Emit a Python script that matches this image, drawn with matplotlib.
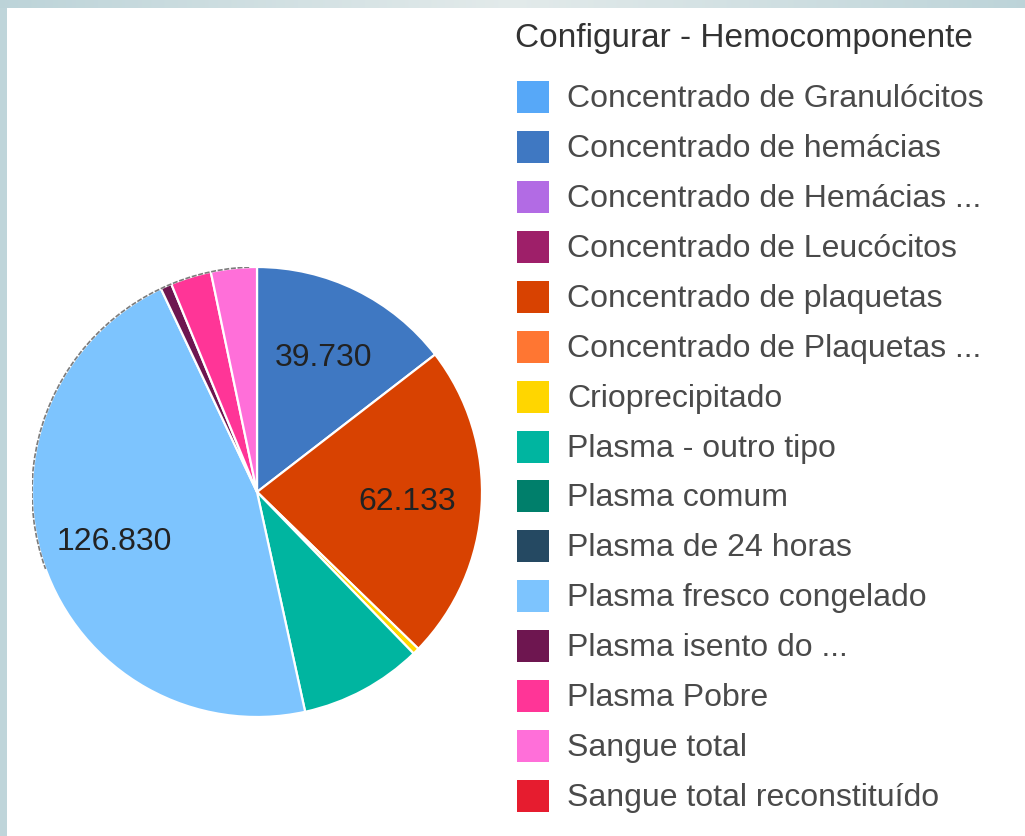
import matplotlib.pyplot as plt
import numpy as np
from matplotlib.patches import Rectangle, Arc

# Data
categories = [
    "Concentrado de Granulócitos",
    "Concentrado de hemácias",
    "Concentrado de Hemácias ...",
    "Concentrado de Leucócitos",
    "Concentrado de plaquetas",
    "Concentrado de Plaquetas ...",
    "Crioprecipitado",
    "Plasma - outro tipo",
    "Plasma comum",
    "Plasma de 24 horas",
    "Plasma fresco congelado",
    "Plasma isento do ...",
    "Plasma Pobre",
    "Sangue total",
    "Sangue total reconstituído",
]
values = [0, 39730, 0, 0, 62133, 0, 1300, 24100, 0, 0, 126830, 2200, 8000, 9000, 0]
colors = [
    "#57a8f8", "#3f78c2", "#b26be4", "#9e1f69", "#d84201",
    "#ff7632", "#ffd600", "#00b5a0", "#007f6b", "#254962",
    "#7dc4fe", "#6e1650", "#ff3597", "#ff6fd9", "#e61c2f",
]
legend_title = "Configurar - Hemocomponente"

W, H = 1025, 837
fig = plt.figure(figsize=(W / 100, H / 100), dpi=100)
fig.patch.set_facecolor("#bfd5da")

# top strip gradient
gax = fig.add_axes([0, 1 - 9 / H, 1, 9 / H])
grad = np.concatenate([np.linspace(0, 1, 256), np.linspace(1, 0, 256)])
c1 = np.array([0.74, 0.83, 0.85])
c2 = np.array([0.89, 0.92, 0.92])
img = c1[None, :] + (c2 - c1)[None, :] * grad[:, None]
gax.imshow(img[None, :, :], aspect="auto", extent=[0, 1, 0, 1])
gax.axis("off")

# white page
fig.add_artist(Rectangle((7 / W, 0), 1, 1 - 8 / H, transform=fig.transFigure,
                         facecolor="white", edgecolor="none", zorder=0))

# pie
cx, cy, r = 257, H - 493, 225
ax = fig.add_axes([(cx - r) / W, (cy - r) / H, 2 * r / W, 2 * r / H])

pie_vals = [v for v in values if v > 0]
pie_cols = [c for v, c in zip(values, colors) if v > 0]
total = sum(pie_vals)


def fmt(pct):
    v = pct * total / 100
    if pct < 10:
        return ""
    return f"{int(round(v)):,}".replace(",", ".")


wedges, texts, autotexts = ax.pie(
    pie_vals, colors=pie_cols, startangle=90, counterclock=False,
    radius=1, autopct=fmt, pctdistance=0.67,
    wedgeprops=dict(edgecolor="white", linewidth=1.6),
    textprops=dict(fontsize=23, color="#222222", family="Liberation Sans"),
)
ax.add_patch(Arc((0, 0), 2.0, 2.0, theta1=92, theta2=200, color="#444444",
                 lw=1.2, alpha=0.7, linestyle=(0, (3, 1))))
ax.set_xlim(-1, 1)
ax.set_ylim(-1, 1)
ax.set_aspect("equal")
ax.axis("off")

# legend
fig.text(515 / W, 1 - 38 / H, legend_title, fontsize=24, color="#333333",
         family="Liberation Sans", va="center", ha="left")
y0, dy = 98, 49.93
for i, (name, col) in enumerate(zip(categories, colors)):
    y = y0 + i * dy
    fig.add_artist(Rectangle((517 / W, 1 - (y + 16) / H), 32 / W, 32 / H,
                             transform=fig.transFigure, facecolor=col,
                             edgecolor="none"))
    fig.text(567 / W, 1 - (y + 1) / H, name, fontsize=23, color="#4a4a4a",
             family="Liberation Sans", va="center", ha="left")

plt.savefig("out.png", dpi=100)
